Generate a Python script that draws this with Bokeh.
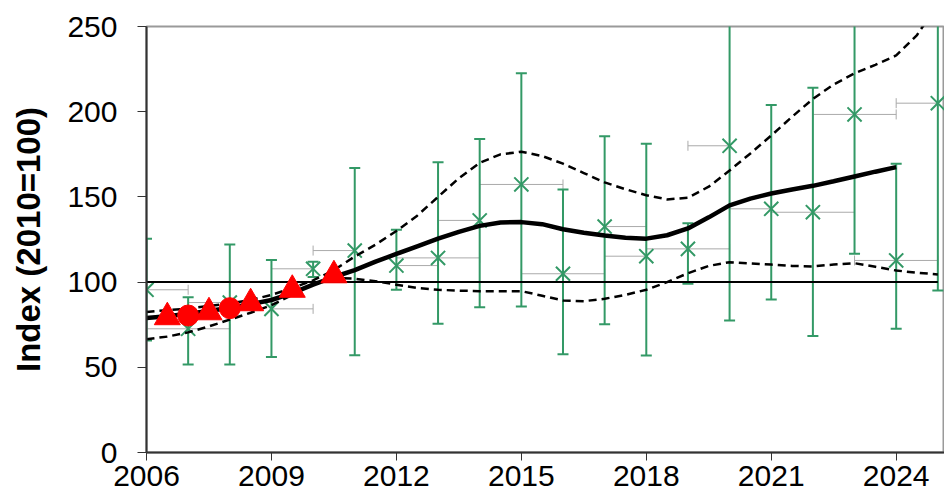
import numpy as np
from bokeh.plotting import figure
from bokeh.models import Range1d, FixedTicker
from bokeh.embed import file_html
from bokeh.resources import INLINE

# ---------------- data ----------------
years = [2006, 2007, 2008, 2009, 2010, 2011, 2012, 2013, 2014, 2015,
         2016, 2017, 2018, 2019, 2020, 2021, 2022, 2023, 2024, 2025]
index_value = [95.5, 72.6, 88.0, 84.3, 107.8, 118.5, 109.7, 114.2, 136.2, 157.3,
               104.9, 132.6, 115.2, 119.5, 180.0, 143.0, 141.0, 198.4, 112.7, 205.0]
err_low = [65.7, 51.6, 51.6, 56.0, 103.0, 57.0, 95.5, 75.5, 85.3, 85.7,
           57.7, 75.3, 56.9, 99.0, 77.5, 89.8, 68.3, 116.6, 72.6, 95.0]
err_high = [125.4, 91.1, 122.0, 113.0, 112.0, 167.0, 130.7, 170.4, 184.0, 222.6,
            154.3, 185.6, 181.2, 134.6, 285.0, 204.0, 214.0, 280.0, 169.4, 315.0]
# horizontal (time span) error, years before / after
xerr_minus = [0, 1, 1, 0, 1, 1, 0, 1, 1, 1, 1, 0, 1, 1, 1, 1, 1, 1, 1, 1]
xerr_plus = [1, 1, 0, 1, 0, 0, 1, 1, 0, 1, 1, 1, 0, 1, 0, 0, 1, 1, 1, 0]

trend_x = [2006, 2006.5, 2007, 2007.5, 2008, 2008.5, 2009, 2009.5, 2010, 2010.5,
           2011, 2011.5, 2012, 2012.5, 2013, 2013.5, 2014, 2014.5, 2015, 2015.5,
           2016, 2016.5, 2017, 2017.5, 2018, 2018.5, 2019, 2019.5, 2020, 2020.5,
           2021, 2021.5, 2022, 2022.5, 2023, 2023.5, 2024]
trend_y = [79, 80, 81.5, 83, 85, 87, 89.5, 93.5, 98.5, 103,
           107, 112, 116.5, 121, 125.5, 129.5, 133, 135, 135.2, 134,
           131, 129, 127.3, 126, 125.5, 127.5, 131.5, 138, 145, 149,
           152, 154.3, 156.5, 159.2, 162, 164.8, 167.5]

band_x = [2006, 2006.5, 2007, 2007.5, 2008, 2008.5, 2009, 2009.5, 2010, 2010.5,
          2011, 2011.5, 2012, 2012.5, 2013, 2013.5, 2014, 2014.5, 2015, 2015.5,
          2016, 2016.5, 2017, 2017.5, 2018, 2018.5, 2019, 2019.5, 2020, 2020.5,
          2021, 2021.5, 2022, 2022.5, 2023, 2023.5, 2024, 2024.5, 2025]
band_upper = [82.5, 83.5, 84.5, 86, 87.5, 89.5, 92.5, 96.5, 101, 107,
              115, 122, 130, 139, 150, 161, 170, 175, 176.5, 174,
              169.5, 164, 158.5, 154.5, 151, 148.5, 149.5, 156, 165.5, 175.5,
              186, 197, 207.5, 216, 222.5, 227.5, 233, 245, 263]
band_lower = [66.5, 68, 70.5, 74, 78, 82, 86.5, 92.5, 99, 102.5,
              102, 100.5, 98.5, 96.5, 95.5, 95, 94.7, 94.7, 94.7, 92,
              89.2, 88.8, 90.2, 92.5, 95.5, 100, 105.2, 109.5, 111.7, 111,
              110.3, 109.5, 109.2, 110.3, 111.1, 109, 106.8, 105.5, 104.5]

tri_x = [2006.5, 2007.5, 2008.5, 2009.5, 2010.5]
tri_y = [79.4, 82.3, 87.6, 95.5, 104.0]
circ_x = [2007, 2008]
circ_y = [80.4, 84.7]

BASE_INDEX = 100
x_ticks = [2006, 2009, 2012, 2015, 2018, 2021, 2024]
y_ticks = [0, 50, 100, 150, 200, 250]

# ---------------- styling ----------------
GREEN = "#339966"
GREY = "#aaaaaa"
FONT = "Liberation Sans"

p = figure(width=944, height=500, output_backend="svg", toolbar_location=None,
           x_range=Range1d(2006, 2025.16), y_range=Range1d(0, 250),
           min_border_left=146, min_border_right=0, min_border_top=26,
           min_border_bottom=48)
p.xgrid.visible = False
p.ygrid.visible = False
p.outline_line_color = "#9a9a9a"
p.outline_line_width = 2
p.background_fill_color = "white"
p.border_fill_color = "white"

yr = np.array(years, dtype=float)
xl = yr - np.array(xerr_minus)
xr = yr + np.array(xerr_plus)

# horizontal grey error bars
p.segment(x0=xl, y0=index_value, x1=xr, y1=index_value, line_color=GREY, line_width=1)
cap_lx = [a for a, m in zip(xl, xerr_minus) if m > 0]
cap_ly = [v for m, v in zip(xerr_minus, index_value) if m > 0]
cap_rx = [a for a, m in zip(xr, xerr_plus) if m > 0]
cap_ry = [v for m, v in zip(xerr_plus, index_value) if m > 0]
p.scatter(cap_lx + cap_rx, cap_ly + cap_ry, marker="dash", angle=np.pi / 2,
          size=10, line_color=GREY, line_width=1)

# vertical green error bars
p.segment(x0=years, y0=err_low, x1=years, y1=err_high, line_color=GREEN, line_width=2)
p.scatter(years + years, err_low + err_high, marker="dash", size=11,
          line_color=GREEN, line_width=2)
p.scatter(years, index_value, marker="x", size=20, line_color=GREEN, line_width=2)

# base line
p.line([years[0], years[-1]], [BASE_INDEX, BASE_INDEX], line_color="black", line_width=2)

# bands and trend
p.line(band_x, band_upper, line_color="black", line_width=2.5, line_dash="8 5")
p.line(band_x, band_lower, line_color="black", line_width=2.5, line_dash="8 5")
p.line(trend_x, trend_y, line_color="black", line_width=4.5)

# red markers
p.scatter(tri_x, tri_y, marker="triangle", size=26, fill_color="#ff0000", line_color="#ff0000")
p.scatter(circ_x, circ_y, marker="circle", size=21, fill_color="#ff0000", line_color="#ff0000")

# axes
p.xaxis.ticker = FixedTicker(ticks=x_ticks)
p.yaxis.ticker = FixedTicker(ticks=y_ticks)
for ax in (p.xaxis[0], p.yaxis[0]):
    ax.axis_line_color = "#333333"
    ax.axis_line_width = 2
    ax.major_tick_line_color = "#333333"
    ax.major_tick_line_width = 1
    ax.major_tick_out = 8
    ax.major_tick_in = 0
    ax.minor_tick_line_color = None
    ax.major_label_text_font = FONT
    ax.major_label_text_font_size = "30px"
    ax.major_label_text_color = "black"
p.yaxis.major_tick_out = 9
p.yaxis.major_label_standoff = 20
p.xaxis.major_label_standoff = 5
p.yaxis.axis_label = "Index (2010=100)"
p.yaxis.axis_label_text_font = FONT
p.yaxis.axis_label_text_font_style = "bold"
p.yaxis.axis_label_text_font_size = "33px"
p.yaxis.axis_label_text_color = "black"
p.yaxis.axis_label_standoff = 17

open("out.html", "w").write(file_html(p, INLINE))
